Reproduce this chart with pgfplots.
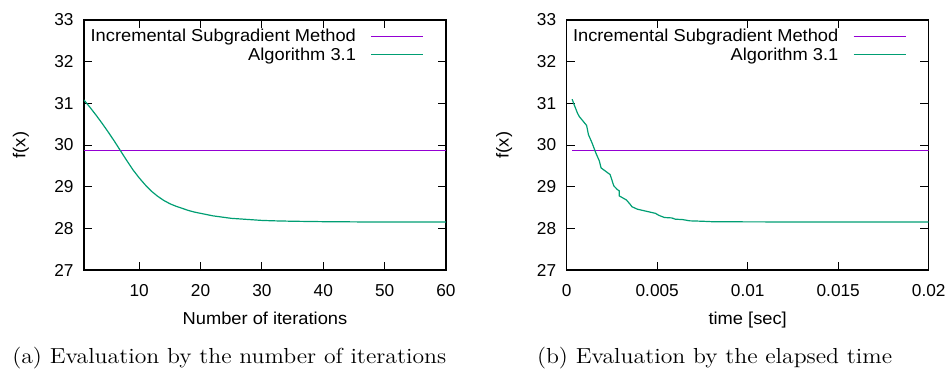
\documentclass[border=0pt]{standalone}
\usepackage{fontspec}
\usepackage{graphicx}
\usepackage{pgfplots}
\pgfplotsset{compat=1.18}
\newfontfamily\gp{Liberation Sans}
\newfontfamily\gpw[FakeStretch=1.06]{Liberation Sans}
\newcommand\gpf{\gp\fontsize{11.5pt}{13pt}\selectfont}
\newcommand\gpwf{\gpw\fontsize{11.5pt}{13pt}\selectfont}
\definecolor{gpPurple}{HTML}{9400D3}
\definecolor{gpGreen}{HTML}{009E73}
\pgfplotsset{gpstyle/.style={
  scale only axis, width=241.33pt, height=166.67pt,
  ymin=27, ymax=33, ytick={27,28,...,33},
  tick align=inside, major tick length=5.5pt,
  axis line style={line width=0.9pt},
  every tick/.style={black, line width=0.6pt},
  tick label style={font=\gpf},
  /pgf/number format/assume math mode=true,
  xticklabel style={yshift=-6pt},
  yticklabel style={xshift=-3.5pt},
  ylabel={f(x)},
  every axis x label/.style={at={(axis description cs:0.5,0)}, anchor=base, yshift=-36.2pt, font=\gpwf},
  legend cell align=right,
  legend plot pos=right,
  legend style={draw=none, fill=none, inner sep=0pt, outer sep=0pt, anchor=north east, font=\gpwf,
    row sep=-1.5pt,
    /tikz/every odd column/.append style={column sep=7.8pt}},
}}
\begin{document}
\begin{tikzpicture}
\useasboundingbox (0,0) rectangle (634pt,246.67pt);
% (a)
\begin{axis}[gpstyle, at={(56pt,66.67pt)}, anchor=south west,
  xmin=1, xmax=60, xtick={10,20,30,40,50,60},
  xlabel={Number of iterations},
  every axis y label/.style={at={(axis description cs:-0.1745,0.5)}, rotate=90, anchor=center, font=\gpwf},
  legend style={at={(rel axis cs:0.939,0.976)}}]
\addplot[gpPurple, line width=0.8pt,
  legend image code/.code={\draw[gpPurple, line width=0.8pt] (0pt,0pt) -- (34.7pt,0pt);}]
  coordinates {(1,29.86) (60,29.86)};
\addlegendentry{Incremental Subgradient Method}
\addplot[gpGreen, line width=0.8pt,
  legend image code/.code={\draw[gpGreen, line width=0.8pt] (0pt,0pt) -- (34.7pt,0pt);}]
  coordinates {
(1,31.08) (2,30.90) (3,30.71) (4,30.51) (5,30.30) (6,30.08) (7,29.85) (8,29.62)
(9,29.40) (10,29.21) (11,29.04) (12,28.89) (13,28.77) (14,28.67) (15,28.59)
(16,28.53) (17,28.48) (18,28.43) (19,28.39) (20,28.36) (21,28.33) (22,28.30)
(23,28.28) (24,28.26) (25,28.24) (26,28.23) (27,28.22) (28,28.21) (29,28.20)
(30,28.19) (32,28.18) (35,28.17) (40,28.16) (45,28.155) (50,28.15) (55,28.15) (60,28.15)};
\addlegendentry{Algorithm 3.1}
\end{axis}
% (b)
\begin{axis}[gpstyle, at={(377.8pt,66.67pt)}, anchor=south west,
  xmin=0, xmax=0.02, xtick={0,0.005,0.01,0.015,0.02},
  xticklabels={0,0.005,0.01,0.015,0.02}, scaled x ticks=false,
  xlabel={time [sec]},
  every axis y label/.style={at={(axis description cs:-0.1727,0.5)}, rotate=90, anchor=center, font=\gpwf},
  legend style={at={(rel axis cs:0.938,0.976)}}]
\addplot[gpPurple, line width=0.8pt,
  legend image code/.code={\draw[gpPurple, line width=0.8pt] (0pt,0pt) -- (34.7pt,0pt);}]
  coordinates {(0.0003,29.86) (0.02,29.86)};
\addlegendentry{Incremental Subgradient Method}
\addplot[gpGreen, line width=0.8pt,
  legend image code/.code={\draw[gpGreen, line width=0.8pt] (0pt,0pt) -- (34.7pt,0pt);}]
  coordinates {
(0.0003,31.10) (0.0004,30.98) (0.0006,30.76) (0.0007,30.68) (0.0011,30.47)
(0.0012,30.25) (0.0014,30.05) (0.0016,29.82) (0.0018,29.62) (0.0019,29.45)
(0.0024,29.29) (0.0026,29.02) (0.0028,28.93) (0.0029,28.90) (0.0029,28.78)
(0.0033,28.68) (0.0035,28.58) (0.0036,28.52) (0.0039,28.46) (0.0045,28.40)
(0.0049,28.36) (0.0051,28.31) (0.0054,28.26) (0.0058,28.25) (0.0060,28.22)
(0.0064,28.21) (0.0068,28.18) (0.0075,28.17) (0.0080,28.16) (0.0100,28.155)
(0.0200,28.15)};
\addlegendentry{Algorithm 3.1}
\end{axis}
\node[anchor=base west, font=\fontsize{14.5pt}{17pt}\selectfont, inner sep=0pt] at (8pt,4.5pt) {\scalebox{1.092}[1]{(a) Evaluation by the number of iterations}};
\node[anchor=base west, font=\fontsize{14.5pt}{17pt}\selectfont, inner sep=0pt] at (357.8pt,4.5pt) {\scalebox{1.092}[1]{(b) Evaluation by the elapsed time}};
\end{tikzpicture}
\end{document}
